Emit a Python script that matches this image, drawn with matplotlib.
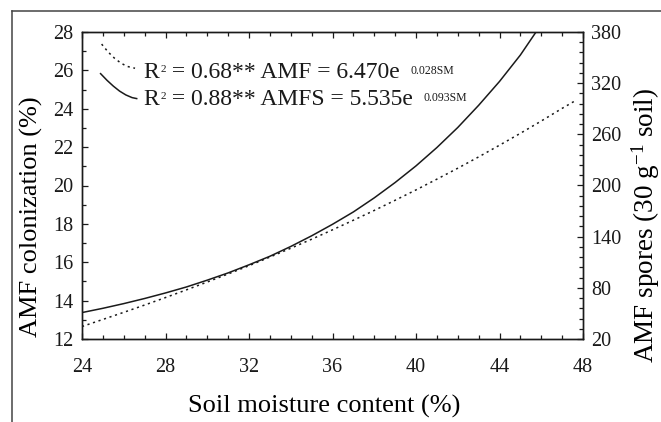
import matplotlib
matplotlib.use('Agg')
import matplotlib.pyplot as plt
from matplotlib.ticker import MultipleLocator, FixedLocator
from matplotlib.lines import Line2D

plt.rcParams['font.family'] = ['Liberation Serif', 'DejaVu Serif']
plt.rcParams['mathtext.fontset'] = 'custom'
plt.rcParams['mathtext.rm'] = 'Liberation Serif'
plt.rcParams['mathtext.it'] = 'Liberation Serif:italic'
plt.rcParams['mathtext.default'] = 'regular'

# ---- data ----
sm_amf = [24, 25, 26, 27, 28, 29, 30, 31, 32, 33, 34, 35, 36, 37, 38, 39, 40,
          41, 42, 43, 44, 45, 46, 47, 47.6]
amf_col = [12.65, 13.02, 13.39, 13.77, 14.16, 14.56, 14.97, 15.39, 15.82, 16.27,
           16.73, 17.20, 17.69, 18.19, 18.70, 19.23, 19.77, 20.33, 20.90, 21.49,
           22.10, 22.72, 23.36, 24.02, 24.40]

sm_spores = [24, 25, 26, 27, 28, 29, 30, 31, 32, 33, 34, 35, 36, 37, 38, 39, 40,
             41, 42, 43, 44, 45, 45.75]
amf_spores = [51, 56, 61.5, 67.5, 74, 81, 89, 97.5, 107, 117, 128.5, 141, 154.5,
              169, 185.5, 203.5, 223, 244.5, 268, 294, 322, 353, 380]

# legend key strokes (left-axis units)
key_dot_x = [24.94, 25.25, 25.55, 25.85, 26.15, 26.54]
key_dot_y = [27.37, 26.96, 26.64, 26.39, 26.21, 26.11]
key_sol_x = [24.89, 25.20, 25.50, 25.80, 26.10, 26.40, 26.62]
key_sol_y = [25.83, 25.48, 25.18, 24.92, 24.72, 24.58, 24.53]

eq_amf = (" = 0.68** AMF = 6.470e", "0.028SM")
eq_spores = (" = 0.88** AMFS = 5.535e", "0.093SM")

x_lim = (24, 48)
y_left_lim = (12, 28)
y_right_lim = (20, 380)
right_major = [20, 80, 140, 200, 260, 320, 380]
right_minor = list(range(20, 381, 12))

xlabel = "Soil moisture content (%)"
ylabel_left = "AMF colonization (%)"
ylabel_right = "AMF spores (30 g$^{-1}$ soil)"

# ---- figure ----
W, H = 661, 422
fig = plt.figure(figsize=(W / 100, H / 100), dpi=100)
ax = fig.add_axes([82 / W, 1 - 339 / H, (583 - 82) / W, (339 - 32) / H])
ax2 = ax.twinx()

ink = '#1a1a1a'
ax.plot(sm_amf, amf_col, color=ink, lw=1.1, linestyle=(0, (1.4, 2.4)))
ax2.plot(sm_spores, amf_spores, color=ink, lw=1.1)

ax.plot(key_dot_x, key_dot_y, color=ink, lw=1.1, linestyle=(0, (1.4, 2.4)))
ax.plot(key_sol_x, key_sol_y, color=ink, lw=1.1)

ax.set_xlim(*x_lim)
ax.set_ylim(*y_left_lim)
ax2.set_ylim(*y_right_lim)

ax.xaxis.set_major_locator(MultipleLocator(4))
ax.xaxis.set_minor_locator(MultipleLocator(1))
ax.yaxis.set_major_locator(MultipleLocator(2))
ax.yaxis.set_minor_locator(MultipleLocator(1))
ax2.yaxis.set_major_locator(FixedLocator(right_major))
ax2.yaxis.set_minor_locator(FixedLocator(right_minor))

for a in (ax, ax2):
    for s in a.spines.values():
        s.set_linewidth(1.0)
        s.set_color(ink)

ax.tick_params(axis='x', which='both', direction='in', top=True, bottom=True,
               labelsize=14.5, pad=14, colors=ink)
ax.tick_params(axis='y', which='both', direction='in', left=True, right=False,
               labelsize=14.5, pad=6, colors=ink)
ax2.tick_params(axis='y', which='both', direction='in', right=True, left=False,
                labelsize=14.5, pad=6, colors=ink)
for a in (ax, ax2):
    a.tick_params(which='major', length=4, width=0.9)
    a.tick_params(which='minor', length=3, width=0.9)

ax.set_xlabel(xlabel, fontsize=19)
ax.xaxis.set_label_coords((324 - 82) / 501, (339 - 413) / 307)
ax.xaxis.label.set_va('baseline')

ax.set_ylabel(ylabel_left, fontsize=19)
ax.yaxis.set_label_coords((31 - 82) / 501, (339 - 217) / 307)
ax.yaxis.label.set_va('center')

ax2.set_ylabel(ylabel_right, fontsize=19.5)
ax2.yaxis.set_label_coords((646 - 82) / 501, (339 - 226) / 307)
ax2.yaxis.label.set_va('center')


def eq_text(axis, x, y, body, expo):
    t1 = axis.text(x, y, "R", transform=axis.transAxes, fontsize=17,
                   va='baseline', ha='left', color=ink)
    t2 = axis.annotate("2", xy=(1, 1), xycoords=t1, xytext=(1, -2.5),
                       textcoords='offset points', fontsize=8, va='top',
                       ha='left', color=ink)
    t3 = axis.annotate(body, xy=(1, 0), xycoords=(t2, t1), xytext=(0, 0),
                       textcoords='offset points', fontsize=17, va='bottom',
                       ha='left', color=ink)
    axis.annotate(expo, xy=(1, 1), xycoords=t3, xytext=(8, -2.5),
                  textcoords='offset points', fontsize=8.5, va='top',
                  ha='left', color=ink)


eq_text(ax, (143 - 82) / 501, (339 - 78) / 307, *eq_amf)
eq_text(ax, (143 - 82) / 501, (339 - 105) / 307, *eq_spores)

# outer frame (partial box)
fx = 12.3 / W
fy = 1 - 10.5 / H
fig.add_artist(Line2D([fx, fx], [0, fy], transform=fig.transFigure,
                      color='#444444', lw=1.1))
fig.add_artist(Line2D([fx, 1], [fy, fy], transform=fig.transFigure,
                      color='#444444', lw=1.1))

fig.savefig('out.png', dpi=100)
